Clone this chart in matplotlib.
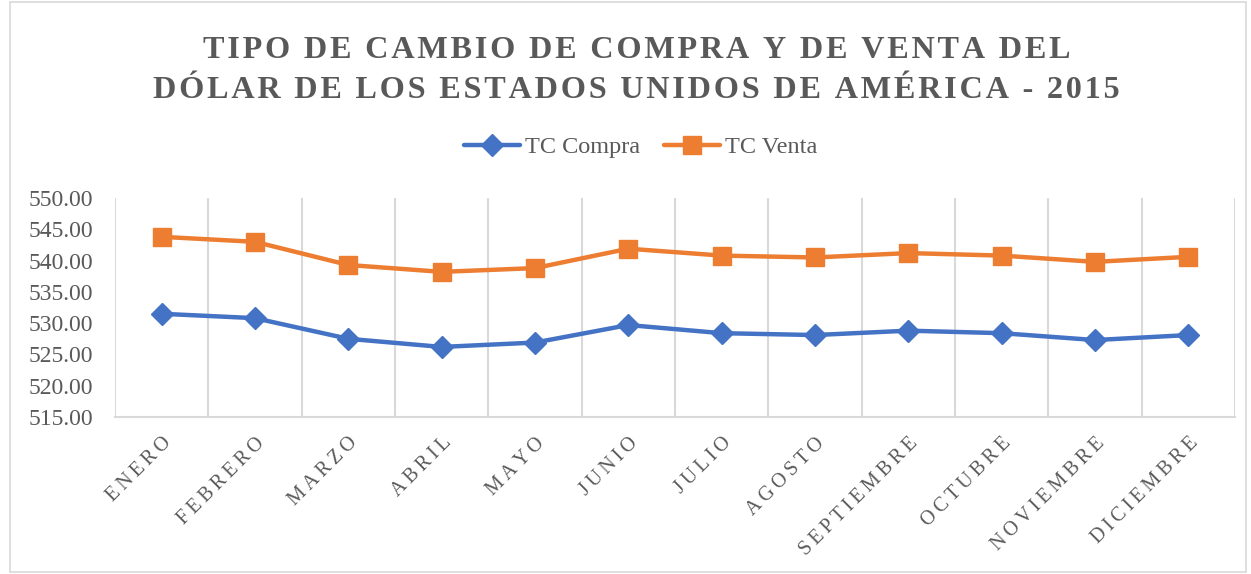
import matplotlib
matplotlib.use('Agg')
import matplotlib.pyplot as plt
from matplotlib.patches import Rectangle

# data
meses = ['ENERO', 'FEBRERO', 'MARZO', 'ABRIL', 'MAYO', 'JUNIO', 'JULIO',
         'AGOSTO', 'SEPTIEMBRE', 'OCTUBRE', 'NOVIEMBRE', 'DICIEMBRE']
tc_compra = [531.5, 530.8, 527.5, 526.2, 526.9, 529.7, 528.4, 528.1, 528.8, 528.4, 527.3, 528.1]
tc_venta = [543.8, 543.0, 539.3, 538.2, 538.8, 541.9, 540.8, 540.5, 541.2, 540.8, 539.8, 540.6]
yticks = [515, 520, 525, 530, 535, 540, 545, 550]

FONT = ['Liberation Serif', 'DejaVu Serif']
GRAY = '#595959'
GRID = '#d9d9d9'


def spaced(s, sep='\u2009'):
    # fake Excel's character spacing with narrow spaces
    return sep.join(s)


plt.rcParams['font.family'] = FONT

fig = plt.figure(figsize=(12.51, 5.74), dpi=100)
ax = fig.add_axes([0.0919, 0.2735, 0.8953, 0.3815])

x = list(range(len(meses)))
ax.plot(x, tc_compra, color='#4472C4', lw=3.2, marker='D', markersize=11.5,
        label='TC Compra', solid_capstyle='round')
ax.plot(x, tc_venta, color='#ED7D31', lw=3.2, marker='s', markersize=12.5,
        label='TC Venta', solid_capstyle='round')

ax.set_xlim(-0.5, len(meses) - 0.5)
ax.set_ylim(515, 550)
ax.set_yticks(yticks)
ax.set_yticklabels([f'{v:.2f}' for v in yticks], fontsize=17, color=GRAY)
ax.set_xticks(x)
ax.set_xticklabels([spaced(m) for m in meses], fontsize=14.5, color=GRAY,
                   rotation=45, ha='right', va='top', rotation_mode='anchor')
ax.set_xticks([i - 0.5 for i in range(len(meses) + 1)], minor=True)
ax.grid(True, which='minor', axis='x', color=GRID, lw=1.5)
ax.tick_params(which='both', length=0)
ax.tick_params(axis='x', pad=12)
ax.tick_params(axis='y', pad=16)
for side in ['top', 'right', 'left']:
    ax.spines[side].set_visible(False)
ax.spines['bottom'].set_color(GRID)
ax.spines['bottom'].set_linewidth(1.5)

fig.legend(loc='center', bbox_to_anchor=(0.512, 1 - 147 / 574), ncol=2, frameon=False,
           prop={'size': 17.5}, labelcolor=GRAY, handlelength=2.3, handletextpad=0.2,
           columnspacing=1.0)

fig.text(0.509, 1 - 51 / 574, spaced('TIPO DE CAMBIO DE COMPRA Y DE VENTA DEL', '\u200a'),
         ha='center', va='center', fontsize=23.2, fontweight='bold', color=GRAY)
fig.text(0.509, 1 - 90 / 574, spaced('DÓLAR DE LOS ESTADOS UNIDOS DE AMÉRICA - 2015', '\u200a'),
         ha='center', va='center', fontsize=23.2, fontweight='bold', color=GRAY)

fig.patches.append(Rectangle((10 / 1251, 2 / 574), 1236 / 1251, 570 / 574,
                             transform=fig.transFigure, fill=False,
                             edgecolor=GRID, lw=1.2))

fig.savefig('out.png', dpi=100)
